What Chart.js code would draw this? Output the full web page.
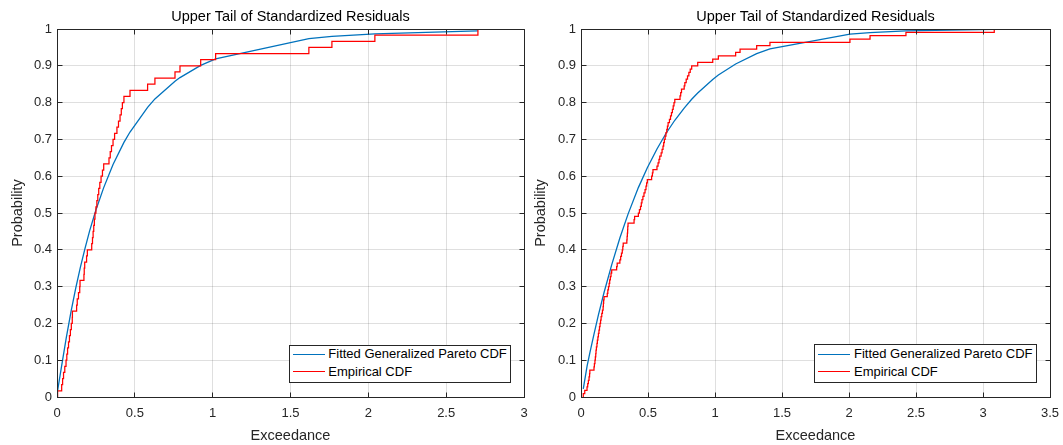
<!DOCTYPE html>
<html><head><meta charset="utf-8">
<script src="https://cdn.jsdelivr.net/npm/chart.js@4.4.0/dist/chart.umd.min.js"></script>
<style>
html,body{margin:0;padding:0;background:#fff;}
#wrap{position:relative;width:1063px;height:445px;overflow:hidden;font-family:"Liberation Sans",Arial,Helvetica,sans-serif;}
.cv{position:absolute;top:0;}
.legend{position:absolute;background:#fff;border:1px solid #262626;box-sizing:border-box;font-size:13px;color:#000;}
.legend .ln{position:absolute;width:32px;height:0;border-top:1.3px solid;}
.legend .tx{position:absolute;white-space:nowrap;line-height:16px;height:16px;}
</style></head><body>
<div id="wrap">
 <canvas id="c1" class="cv" width="581" height="445" style="left:0"></canvas>
 <canvas id="c2" class="cv" width="569" height="445" style="left:531px"></canvas>
 <div id="lg1" class="legend" style="left:289px;top:345px;width:222px;height:38px;"></div>
 <div id="lg2" class="legend" style="left:814px;top:344px;width:223px;height:39px;"></div>
</div>
<script>
// ---- text ----
const titleText = 'Upper Tail of Standardized Residuals';
const xTitle = 'Exceedance';
const yTitle = 'Probability';
const seriesNames = ['Fitted Generalized Pareto CDF', 'Empirical CDF'];

// ---- ticks ----
const yTicks = [0,0.1,0.2,0.3,0.4,0.5,0.6,0.7,0.8,0.9,1];
const yTickLabels = ['0','0.1','0.2','0.3','0.4','0.5','0.6','0.7','0.8','0.9','1'];
const xTicksLeft = [0,0.5,1,1.5,2,2.5,3];
const xTickLabelsLeft = ['0','0.5','1','1.5','2','2.5','3'];
const xTicksRight = [0,0.5,1,1.5,2,2.5,3,3.5];
const xTickLabelsRight = ['0','0.5','1','1.5','2','2.5','3','3.5'];

// ---- left panel: sorted exceedances (empirical CDF) ----
const leftExceed = [0.004,0.030,0.036,0.042,0.050,0.058,0.063,0.068,0.074,0.080,
  0.086,0.092,0.098,0.099,0.126,0.130,0.138,0.146,0.148,0.173,
  0.175,0.178,0.190,0.195,0.223,0.228,0.232,0.236,0.240,0.244,
  0.250,0.256,0.262,0.268,0.275,0.283,0.292,0.300,0.334,0.342,
  0.350,0.360,0.370,0.385,0.395,0.405,0.413,0.420,0.430,0.469,
  0.582,0.629,0.758,0.790,0.923,1.019,1.618,1.766,2.042,2.704];
// left panel: fitted GP CDF
const leftFitX = [0.004,0.03,0.06,0.09,0.12,0.15,0.18,0.21,0.25,0.30,0.36,0.43,0.469,0.582,0.629,0.758,0.79,0.923,1.019,1.618,1.766,2.042,2.704];
const leftFitP = [0.018,0.085,0.162,0.232,0.295,0.352,0.404,0.452,0.508,0.569,0.632,0.692,0.720,0.787,0.810,0.858,0.868,0.901,0.919,0.974,0.980,0.987,0.995];

// ---- right panel ----
const rightExceed = [0.017,0.028,0.045,0.050,0.055,0.060,0.064,0.066,0.097,0.100,
  0.104,0.107,0.110,0.112,0.115,0.119,0.122,0.126,0.130,0.134,
  0.138,0.142,0.146,0.150,0.155,0.160,0.165,0.167,0.169,0.172,
  0.196,0.200,0.205,0.210,0.214,0.219,0.224,0.229,0.266,0.270,
  0.290,0.296,0.302,0.308,0.312,0.315,0.342,0.344,0.346,0.348,
  0.349,0.351,0.396,0.400,0.428,0.436,0.444,0.450,0.455,0.462,
  0.470,0.478,0.485,0.490,0.495,0.527,0.533,0.537,0.567,0.575,
  0.582,0.588,0.598,0.605,0.612,0.617,0.622,0.628,0.634,0.640,
  0.645,0.650,0.660,0.668,0.675,0.682,0.688,0.694,0.700,0.739,
  0.744,0.750,0.770,0.775,0.785,0.795,0.805,0.815,0.826,0.871,
  0.983,1.025,1.154,1.187,1.311,1.410,2.007,2.157,2.425,3.084];
const rightFitX = [0.017,0.045,0.066,0.097,0.13,0.172,0.229,0.29,0.351,0.428,0.495,0.567,0.634,0.70,0.77,0.826,0.871,0.983,1.025,1.154,1.311,1.41,2.007,2.157,2.425,3.084];
const rightFitP = [0.022,0.083,0.120,0.171,0.223,0.284,0.359,0.432,0.497,0.569,0.623,0.674,0.716,0.752,0.785,0.809,0.826,0.863,0.875,0.905,0.933,0.946,0.986,0.990,0.995,0.999];

const FONT = '"Liberation Sans", Arial, Helvetica, sans-serif';
const BLUE = '#0072bd', RED = '#ff0000', AX = '#262626';

function ecdfPoints(xs){
  const n = xs.length;
  const pts = [{x: xs[0], y: 0}];
  xs.forEach((v, i) => pts.push({x: v, y: (i + 1) / n}));
  return pts;
}
function pairPoints(xs, ps){ return xs.map((v, i) => ({x: v, y: ps[i]})); }

function align(px){ return Math.round(px - 0.5) + 0.5; }

const boxPlugin = {
  id: 'boxTicks',
  afterDraw(chart){
    const {ctx, chartArea: a} = chart;
    const sx = chart.scales.x, sy = chart.scales.y;
    const L = align(a.left), R = align(a.right), T = align(a.top), B = align(a.bottom);
    ctx.save();
    ctx.strokeStyle = AX; ctx.lineWidth = 1;
    ctx.beginPath();
    ctx.moveTo(L, T); ctx.lineTo(R, T); ctx.lineTo(R, B); ctx.lineTo(L, B); ctx.closePath();
    const tl = 5;
    sx.ticks.forEach(t => {
      const p = align(sx.getPixelForValue(t.value));
      ctx.moveTo(p, B); ctx.lineTo(p, B - tl);
      ctx.moveTo(p, T); ctx.lineTo(p, T + tl);
    });
    sy.ticks.forEach(t => {
      const p = align(sy.getPixelForValue(t.value));
      ctx.moveTo(L, p); ctx.lineTo(L + tl, p);
      ctx.moveTo(R, p); ctx.lineTo(R - tl, p);
    });
    ctx.stroke();
    ctx.restore();
  }
};

function makeChart(id, cfg){
  return new Chart(document.getElementById(id), {
    type: 'line',
    data: { datasets: [
      { label: seriesNames[1], data: ecdfPoints(cfg.exceed), stepped: 'before',
        borderColor: RED, borderWidth: 1.25, pointRadius: 0, pointHoverRadius: 0, fill: false },
      { label: seriesNames[0], data: pairPoints(cfg.fitX, cfg.fitP),
        borderColor: BLUE, borderWidth: 1.3, pointRadius: 0, pointHoverRadius: 0, fill: false, tension: 0 }
    ]},
    options: {
      responsive: false, animation: false, devicePixelRatio: 1, events: [],
      layout: { padding: { left: 0, right: cfg.padRight, top: 0, bottom: 0 } },
      plugins: {
        legend: { display: false }, tooltip: { enabled: false },
        title: { display: true, text: titleText, color: '#000', fullSize: false,
          font: { family: FONT, size: 14.5, weight: 'normal', lineHeight: 1.2 },
          padding: { top: 8.1, bottom: 3.5 } }
      },
      scales: {
        x: { type: 'linear', min: 0, max: cfg.xTicks[cfg.xTicks.length - 1],
          afterBuildTicks: s => { s.ticks = cfg.xTicks.map(v => ({ value: v })); },
          afterFit: s => { s.height = 48; s.paddingLeft = 0; s.paddingRight = 0; },
          ticks: { callback: (v, i) => cfg.xLabels[i], color: AX, autoSkip: false, maxRotation: 0,
            font: { family: FONT, size: 13 }, padding: 8.5 },
          grid: { color: 'rgba(38,38,38,0.15)', drawTicks: false, lineWidth: 1 },
          border: { display: true, color: AX, width: 1 },
          title: { display: true, text: xTitle, color: AX,
            font: { family: FONT, size: 14.5, lineHeight: 1.2 }, padding: { top: 0, bottom: 0.6 } } },
        y: { type: 'linear', min: 0, max: 1,
          afterBuildTicks: s => { s.ticks = yTicks.map(v => ({ value: v })); },
          afterFit: s => { s.width = cfg.yWidth; },
          ticks: { callback: (v, i) => yTickLabels[i], color: AX, autoSkip: false,
            font: { family: FONT, size: 13 }, padding: 5 },
          grid: { color: 'rgba(38,38,38,0.15)', drawTicks: false, lineWidth: 1 },
          border: { display: true, color: AX, width: 1 },
          title: { display: true, text: yTitle, color: AX,
            font: { family: FONT, size: 14.5, lineHeight: 1.2 }, padding: { top: cfg.yTitlePad, bottom: 0 } } }
      }
    },
    plugins: [boxPlugin]
  });
}

makeChart('c1', { exceed: leftExceed, fitX: leftFitX, fitP: leftFitP,
  xTicks: xTicksLeft, xLabels: xTickLabelsLeft, yWidth: 57, padRight: 57, yTitlePad: 9.3 });
makeChart('c2', { exceed: rightExceed, fitX: rightFitX, fitP: rightFitP,
  xTicks: xTicksRight, xLabels: xTickLabelsRight, yWidth: 50, padRight: 50, yTitlePad: 1.3 });

function buildLegend(id, rows){
  const el = document.getElementById(id);
  rows.forEach(r => {
    const ln = document.createElement('div');
    ln.className = 'ln';
    ln.style.left = r.lineLeft + 'px';
    ln.style.top = (r.cy - 0.65) + 'px';
    ln.style.borderTopColor = r.color;
    el.appendChild(ln);
    const tx = document.createElement('div');
    tx.className = 'tx';
    tx.style.left = r.textLeft + 'px';
    tx.style.top = (r.cy - 8) + 'px';
    tx.textContent = r.name;
    el.appendChild(tx);
  });
}
buildLegend('lg1', [
  { name: seriesNames[0], color: BLUE, cy: 8.3, lineLeft: 3.3, textLeft: 38.3 },
  { name: seriesNames[1], color: RED, cy: 26, lineLeft: 3.3, textLeft: 38.3 }
]);
buildLegend('lg2', [
  { name: seriesNames[0], color: BLUE, cy: 9.3, lineLeft: 3.3, textLeft: 39 },
  { name: seriesNames[1], color: RED, cy: 27, lineLeft: 3.3, textLeft: 39 }
]);
</script>
</body></html>
